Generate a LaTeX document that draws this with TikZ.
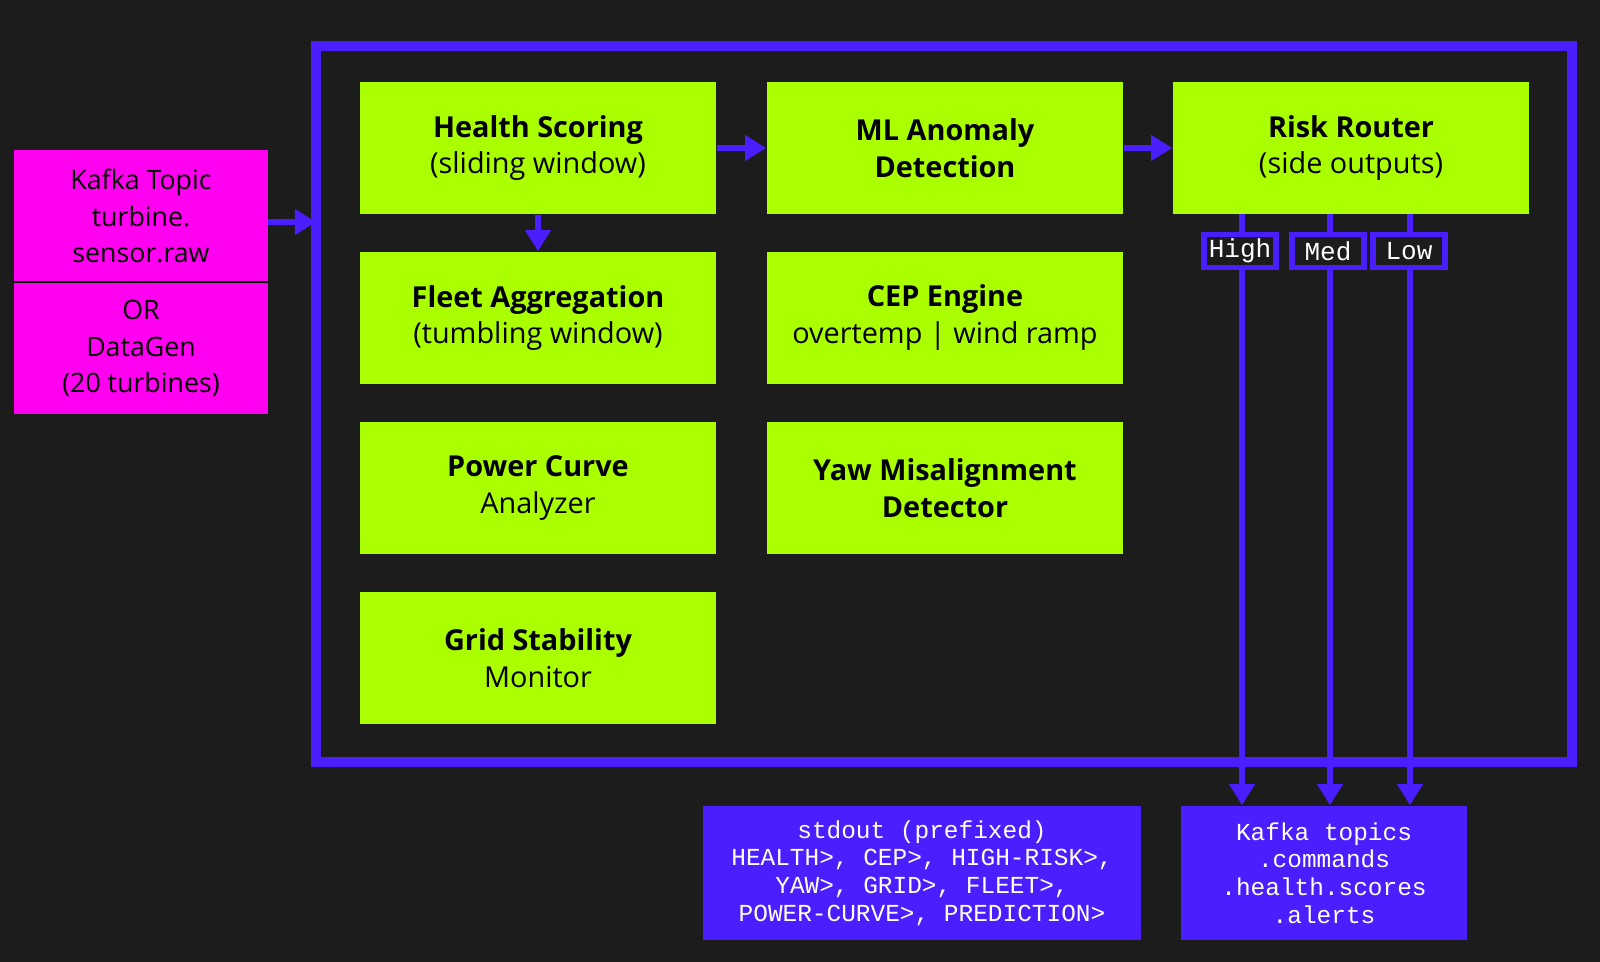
\documentclass[tikz,border=0pt]{standalone}
\usepackage{fontspec}
\setmainfont{Open Sans}
\setmonofont{Liberation Mono}
\usetikzlibrary{arrows.meta}
\definecolor{bg}{HTML}{1C1C1C}
\definecolor{bl}{HTML}{4B1EFF}
\definecolor{gr}{HTML}{AAFF00}
\definecolor{mg}{HTML}{FF00F0}
\begin{document}
\begin{tikzpicture}[x=0.01cm,y=-0.01cm,
 g/.style={fill=gr,draw=none,align=center,font=\fontsize{8.2}{10.5}\selectfont,text=black},
 m/.style={fill=mg,align=center,font=\fontsize{7.6}{10.5}\selectfont,text=black},
 b/.style={fill=bl,align=center,font=\ttfamily\fontsize{6.95}{7.9}\selectfont,text=white},
 lab/.style={draw=bl,line width=1.5pt,fill=bg,text=white,font=\ttfamily\fontsize{7.4}{8}\selectfont,inner sep=0pt,minimum width=0.72cm,minimum height=0.33cm},
 ar/.style={draw=bl,line width=1.5pt,-{Triangle[length=6pt,width=7pt]}},
 ln/.style={draw=bl,line width=1.5pt}]
\fill[bg] (0,0) rectangle (1600,962);
\draw[bl,line width=3pt] (316,46) rectangle (1572,762);
% magenta source
\node[m,minimum width=2.54cm,minimum height=1.32cm] (k1) at (141,216) {Kafka Topic\\turbine.\\sensor.raw};
\node[m,minimum width=2.54cm,minimum height=1.31cm] (k2) at (141,348.5) {OR\\DataGen\\(20 turbines)};
\draw[black,line width=0.8pt] (14,282) -- (268,282);
\coordinate (fin) at (316,222);
\draw[ar] (268,222) -- (fin);
% green
\def\gw{3.56cm}\def\gh{1.32cm}
\node[g,minimum width=\gw,minimum height=\gh] (hs) at (538,148) {\textbf{Health Scoring}\\(sliding window)};
\node[g,minimum width=\gw,minimum height=\gh] (ml) at (945,148) {\textbf{ML Anomaly}\\\textbf{Detection}};
\node[g,minimum width=\gw,minimum height=\gh] (rr) at (1351,148) {\textbf{Risk Router}\\(side outputs)};
\node[g,minimum width=\gw,minimum height=\gh] (fa) at (538,318) {\textbf{Fleet Aggregation}\\(tumbling window)};
\node[g,minimum width=\gw,minimum height=\gh] (cep) at (945,318) {\textbf{CEP Engine}\\overtemp | wind ramp};
\node[g,minimum width=\gw,minimum height=\gh] (pc) at (538,488) {\textbf{Power Curve}\\Analyzer};
\node[g,minimum width=\gw,minimum height=\gh] (yaw) at (945,488) {\textbf{Yaw Misalignment}\\\textbf{Detector}};
\node[g,minimum width=\gw,minimum height=\gh] (gs) at (538,658) {\textbf{Grid Stability}\\Monitor};
\draw[ar] (hs) -- (ml);
\draw[ar] (ml) -- (rr);
\draw[ar] (hs) -- (fa);
% bottom
\node[b,minimum width=4.38cm,minimum height=1.34cm] (so) at (922,873) {stdout (prefixed)\\HEALTH>, CEP>, HIGH-RISK>,\\YAW>, GRID>, FLEET>,\\POWER-CURVE>, PREDICTION>};
\node[b,minimum width=2.86cm,minimum height=1.34cm] (kt) at (1324,873) {Kafka topics\\.commands\\.health.scores\\.alerts};
\coordinate (r1) at (1242,214);\coordinate (r2) at (1330,214);\coordinate (r3) at (1410,214);
\draw[ar] (r1) -- (r1|-kt.north);
\draw[ar] (r2) -- (r2|-kt.north);
\draw[ar] (r3) -- (r3|-kt.north);
\node[lab] (hi) at (1240,251) {High};
\node[lab] (me) at (1328,251) {Med};
\node[lab] (lo) at (1409,251) {Low};
\end{tikzpicture}
\end{document}
